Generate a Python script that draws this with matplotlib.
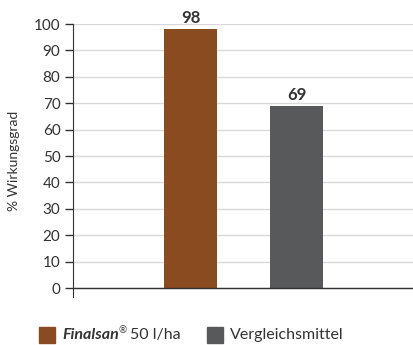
import matplotlib
matplotlib.use("Agg")
import matplotlib.pyplot as plt
from matplotlib.patches import Rectangle

plt.rcParams['font.family'] = ['Lato', 'DejaVu Sans']

# Daten
kategorien = ['Finalsan® 50 l/ha', 'Vergleichsmittel']
werte = [98, 69]
farben = ['#8B4B20', '#58595B']
yticks = [0, 10, 20, 30, 40, 50, 60, 70, 80, 90, 100]

textfarbe = '#333333'

fig = plt.figure(figsize=(4.14, 3.45), dpi=100)
ax = fig.add_axes([0.1763, 0.139, 0.8213, 0.7914])

x = list(range(len(werte)))
bars = ax.bar(x, werte, width=0.5, color=farben, zorder=3)

for xi, v in zip(x, werte):
    ax.text(xi, v + 2.3, str(v), ha='center', va='baseline', fontsize=12,
            fontweight='bold', color=textfarbe)

ax.set_xlim(-1.108, 2.099)
ax.set_ylim(-3.4, 100)
ax.set_yticks(yticks)
ax.set_xticks([])
ax.grid(axis='y', color='#d9d9d9', linewidth=1, zorder=0)
ax.axhline(0, color=textfarbe, linewidth=1, zorder=4)

for s in ['top', 'right', 'bottom']:
    ax.spines[s].set_visible(False)
ax.spines['left'].set_color(textfarbe)
ax.spines['left'].set_bounds(-3.4, 100)
ax.tick_params(axis='y', length=6, width=1, color=textfarbe, labelcolor=textfarbe,
               labelsize=11, pad=3)
ax.set_ylabel('% Wirkungsgrad', fontsize=10, color=textfarbe)
ax.yaxis.set_label_coords(-0.156, 0.5)

# Legende (manuell wegen gemischter Schrift)
ly = 1 - 335 / 345
fig.patches.append(Rectangle((39 / 414, 1 - 343 / 345), 16 / 414, 16 / 345,
                             transform=fig.transFigure, color=farben[0], figure=fig))
r = fig.canvas.get_renderer()
t1 = fig.text(62 / 414, ly, 'Finalsan', fontsize=11.5, fontweight='bold',
              fontstyle='italic', color=textfarbe, va='center')
x1 = t1.get_window_extent(r).x1 / 414
t2 = fig.text(x1, ly + 4 / 345, '®', fontsize=7, color=textfarbe, va='center')
x2 = t2.get_window_extent(r).x1 / 414
fig.text(x2 + 3 / 414, ly, '50 l/ha', fontsize=11.5, color=textfarbe, va='center')

fig.patches.append(Rectangle((207 / 414, 1 - 343 / 345), 16 / 414, 16 / 345,
                             transform=fig.transFigure, color=farben[1], figure=fig))
fig.text(230 / 414, ly, kategorien[1], fontsize=11.5, color=textfarbe, va='center')

fig.savefig('out.png', dpi=100)
